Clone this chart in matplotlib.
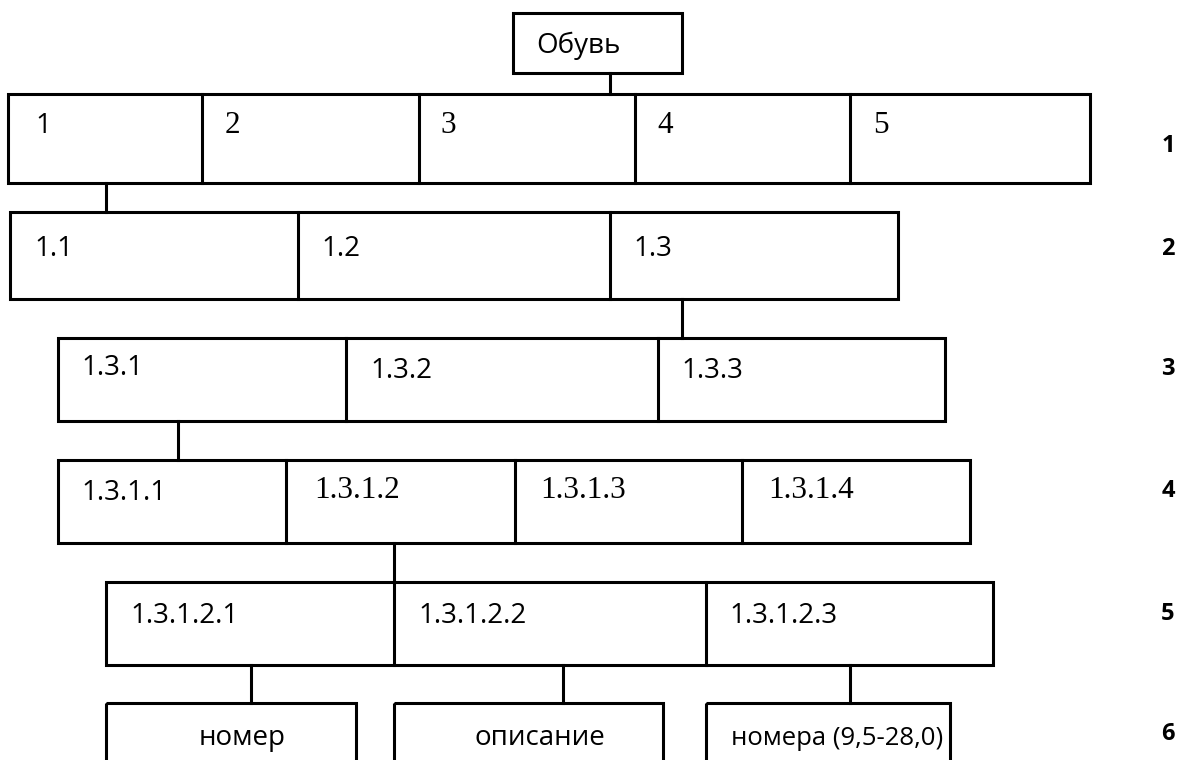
import matplotlib.pyplot as plt
from matplotlib.patches import Rectangle

# labels
root_label = "Обувь"
row_labels = [
    ["1", "2", "3", "4", "5"],
    ["1.1", "1.2", "1.3"],
    ["1.3.1", "1.3.2", "1.3.3"],
    ["1.3.1.1", "1.3.1.2", "1.3.1.3", "1.3.1.4"],
    ["1.3.1.2.1", "1.3.1.2.2", "1.3.1.2.3"],
]
leaf_labels = ["номер", "описание", "номера (9,5-28,0)"]
level_labels = ["1", "2", "3", "4", "5", "6"]

# layout in pixels (y from top, y values are text baselines)
row_edges = [
    [8, 202, 419, 635, 850, 1090],
    [10, 298, 610, 898],
    [58, 346, 658, 945],
    [58, 286, 515, 742, 970],
    [106, 394, 706, 993],
]
row_y = [(94, 183), (212, 299), (338, 421), (460, 543), (582, 665)]
label_x = [
    [35, 225, 440, 657, 873],
    [34, 321, 633],
    [81, 370, 681],
    [81, 314, 540, 768],
    [130, 418, 729],
]
label_base = [
    [133, 133, 133, 133, 133],
    [256, 256, 256],
    [375, 378, 378],
    [500, 498, 498, 498],
    [623, 623, 623],
]
serif_cells = {(0, 1), (0, 2), (0, 3), (0, 4), (3, 1), (3, 2), (3, 3)}
leaf_boxes = [(106, 356), (394, 663), (706, 950)]
leaf_y = (703, 775)
leaf_x = [242, 540, 731]
leaf_ha = ["center", "center", "left"]
leaf_fs = [20, 20, 18.5]
connectors = [(610, 73, 94), (106, 183, 212), (682, 299, 338), (178, 421, 460),
              (394, 543, 582), (251, 665, 703), (563, 665, 703), (850, 665, 703)]
level_base = [152, 255, 375, 497, 620, 740]

lw = 2.2
sans = "Open Sans"
serif = "Liberation Serif"

fig = plt.figure(figsize=(11.82, 7.60), dpi=100)
ax = fig.add_axes([0, 0, 1, 1])
ax.set_xlim(0, 1182)
ax.set_ylim(760, 0)
ax.axis("off")


def box(x0, x1, y0, y1):
    ax.add_patch(Rectangle((x0, y0), x1 - x0, y1 - y0, fill=False,
                           edgecolor="black", linewidth=lw))


# root
box(513, 682, 13, 73)
ax.text(536, 53, root_label, fontsize=20, family=sans, ha="left", va="baseline")

# rows of cells
for r, edges in enumerate(row_edges):
    y0, y1 = row_y[r]
    box(edges[0], edges[-1], y0, y1)
    for x in edges[1:-1]:
        ax.plot([x, x], [y0, y1], color="black", linewidth=lw)
    for i, lab in enumerate(row_labels[r]):
        if (r, i) in serif_cells:
            ax.text(label_x[r][i], label_base[r][i], lab, fontsize=22.5, family=serif,
                    ha="left", va="baseline")
        else:
            ax.text(label_x[r][i], label_base[r][i], lab, fontsize=20, family=sans,
                    ha="left", va="baseline")

# leaves
for x0, x1 in leaf_boxes:
    box(x0, x1, leaf_y[0], leaf_y[1])
for x, ha, lab, fs in zip(leaf_x, leaf_ha, leaf_labels, leaf_fs):
    ax.text(x, 745, lab, fontsize=fs, family=sans, ha=ha, va="baseline")

# connectors
for x, y0, y1 in connectors:
    ax.plot([x, x], [y0, y1], color="black", linewidth=lw)

# level numbers
for lab, y in zip(level_labels, level_base):
    ax.text(1168, y, lab, fontsize=17, family=sans, fontweight="bold",
            ha="center", va="baseline")

fig.savefig("out.png", dpi=100)
